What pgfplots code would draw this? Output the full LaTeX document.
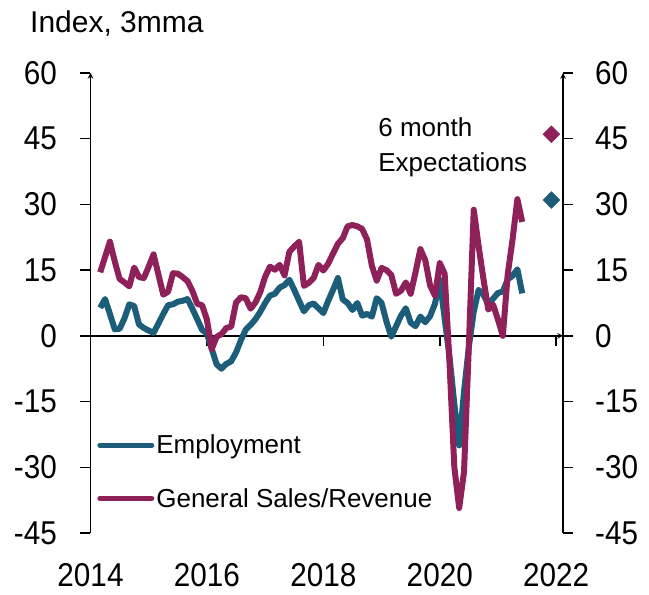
\documentclass[border=0pt]{standalone}
\usepackage{fontspec}
\setmainfont{Liberation Sans}
\newfontfamily\tickfont[FakeStretch=0.9]{Liberation Sans}
\usepackage{pgfplots}
\pgfplotsset{compat=1.18}
\definecolor{emp}{RGB}{28,94,122}
\definecolor{sales}{RGB}{142,32,90}

% x = months since Jan 2014
\pgfplotsset{
  base/.style={
    width=472.5pt, height=460pt, scale only axis,
    xmin=0, xmax=97.4, ymin=-45, ymax=60,
    ytick={-45,-30,...,60},
    xtick={0,24,48,72,96},
    major tick length=10pt,
    axis line style={line width=1.5pt,-},
    every tick/.style={line width=1.5pt, black},
    tick label style={font=\tickfont\fontsize{33}{33}\selectfont,
      /pgf/number format/assume math mode=true},
  }
}

\begin{document}
\begin{tikzpicture}
\begin{axis}[base, name=main,
  axis x line=middle, axis y line=left,
  xtick align=outside, ytick align=outside,
  hide obscured x ticks=false,
  xticklabels={2014,2016,2018,2020,2022},
  xticklabel style={yshift=-214pt},
  yticklabel style={inner xsep=0pt, xshift=-23.5pt},
  clip=false,
  legend style={at={(rel axis cs:0.014,0.218)}, anchor=north west,
    draw=none, fill=none, font=\fontsize{26}{26}\selectfont,
    row sep=29pt, inner sep=0pt},
  legend cell align=left,
  legend image code/.code={\draw[#1, line width=5pt, line cap=round] (0pt,0pt) -- (52pt,0pt);},
]
\addplot[emp, line width=6pt, line join=round] coordinates {
(2,6.4) (3,8.4) (4,5) (5,1.5) (6,1.6) (7,4) (8,7.2) (9,6.8) (10,2.6) (11,1.8)
(12,1.2) (13,0.7) (14,2.8) (15,5) (16,7) (17,7.2) (18,7.8) (19,8) (20,8.4) (21,6.2)
(22,3.8) (23,1.4) (24,0.5) (25,-3) (26,-6.5) (27,-7.5) (28,-6.4) (29,-5.8) (30,-3.8) (31,-1)
(32,1.4) (33,2.5) (34,3.8) (35,5.5) (36,7.5) (37,9.2) (38,9.6) (39,11) (40,11.6) (41,12.8)
(42,10.5) (43,8) (44,5.6) (45,7) (46,7.4) (47,6.3) (48,5.2) (49,8) (50,10.5) (51,13.2)
(52,8.3) (53,7.5) (54,5.9) (55,7.5) (56,4.6) (57,5) (58,4.4) (59,8.6) (60,7.5) (61,3.3)
(62,-0.2) (63,2.2) (64,4.6) (65,6.3) (66,3) (67,2.2) (68,4.4) (69,3.1) (70,4.5) (71,7.3)
(72,12.8) (73,4) (74,-4.7) (75,-15.6) (76,-25) (77,-12.7) (78,-2.4) (79,5.5) (80,10.5) (81,9.4)
(82,7.1) (83,8.5) (84,9.8) (85,10.1) (86,12.9) (87,13.7) (88,15.2) (89,9.7)
};
\addlegendentry{Employment}
\addplot[sales, line width=6pt, line join=round] coordinates {
(2,14.5) (3,18) (4,21.5) (5,17) (6,13) (7,12.2) (8,11.3) (9,15.6) (10,13.4) (11,13.2)
(12,15.8) (13,18.6) (14,14) (15,9.4) (16,10.1) (17,14.3) (18,14.2) (19,13.4) (20,12.5) (21,10.3)
(22,7.3) (23,7) (24,3.7) (25,-3) (26,-0.2) (27,0.4) (28,1.8) (29,2.1) (30,7.6) (31,8.8)
(32,8.6) (33,6.2) (34,7.6) (35,10) (36,13.5) (37,15.8) (38,15.1) (39,16.2) (40,13.8) (41,19.2)
(42,20.4) (43,21.5) (44,11.4) (45,12.1) (46,13.2) (47,16.2) (48,14.9) (49,16.5) (50,18.8) (51,21)
(52,22.3) (53,25) (54,25.3) (55,25) (56,24.4) (57,22) (58,16) (59,12.6) (60,15.5) (61,15)
(62,13.9) (63,9.6) (64,10.3) (65,12.2) (66,9.6) (67,14.5) (68,19.8) (69,17.3) (70,11.5) (71,9.2)
(72,16.6) (73,14.2) (74,-6) (75,-30) (76,-39.3) (77,-31) (78,-2) (79,28.8) (80,20.5) (81,13)
(82,6) (83,7.1) (84,3.7) (85,0) (86,14) (87,22) (88,31.2) (89,26)
};
\addlegendentry{General Sales/Revenue}
% 6 month expectations
\addplot[only marks, mark=square*, mark size=6pt, mark options={rotate=45, sales}, forget plot]
  coordinates {(95,46)};
\addplot[only marks, mark=square*, mark size=6pt, mark options={rotate=45, emp}, forget plot]
  coordinates {(95,31)};
\node[anchor=north west, align=left, inner sep=0pt, font=\fontsize{26}{35}\selectfont]
  at (axis cs:59.3,49.8) {6 month\\Expectations};
\node[anchor=base west, inner sep=0pt, font=\fontsize{30}{30}\selectfont]
  at ([xshift=-60.5pt,yshift=40pt]rel axis cs:0,1) {Index, 3mma};
\end{axis}
\begin{axis}[base,
  axis y line=right, axis x line=none,
  ytick align=outside,
  yticklabel style={inner xsep=0pt, xshift=22pt, anchor=west},
]
\addplot[draw=none] coordinates {(0,0)};
\end{axis}
\pgfresetboundingbox
\path ([shift={(-90.5pt,-61pt)}]main.south west) rectangle ([shift={(86pt,73pt)}]main.north east);
\end{tikzpicture}
\end{document}
